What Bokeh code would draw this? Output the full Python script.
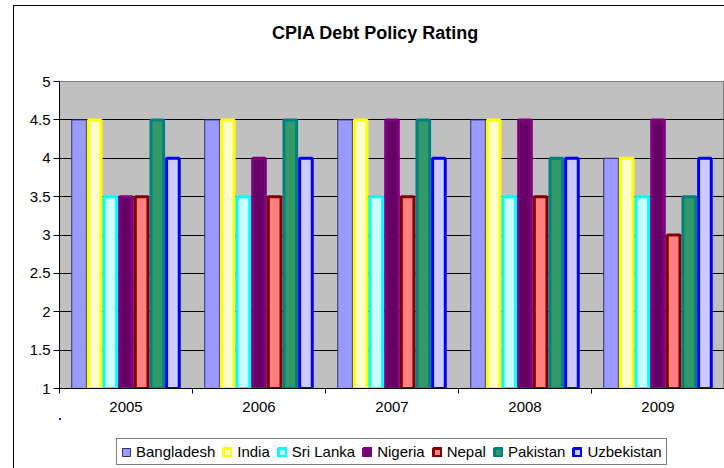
from bokeh.plotting import figure
from bokeh.layouts import column
from bokeh.models import (Range1d, FixedTicker, NumeralTickFormatter, Legend, LegendItem,
                          SingleIntervalTicker, Div, Label)
from bokeh.embed import file_html
from bokeh.resources import INLINE

title_text = "CPIA Debt Policy Rating"
years = ["2005", "2006", "2007", "2008", "2009"]
countries = ["Bangladesh", "India", "Sri Lanka", "Nigeria", "Nepal", "Pakistan", "Uzbekistan"]
bangladesh = [4.5, 4.5, 4.5, 4.5, 4.0]
india = [4.5, 4.5, 4.5, 4.5, 4.0]
sri_lanka = [3.5, 3.5, 3.5, 3.5, 3.5]
nigeria = [3.5, 4.0, 4.5, 4.5, 4.5]
nepal = [3.5, 3.5, 3.5, 3.5, 3.0]
pakistan = [4.5, 4.5, 4.5, 4.0, 3.5]
uzbekistan = [4.0, 4.0, 4.0, 4.0, 4.0]
series = [bangladesh, india, sri_lanka, nigeria, nepal, pakistan, uzbekistan]

fills = ["#9999FF", "#FFFFCC", "#CCFFFF", "#660066", "#FF8080", "#339966", "#CCCCFF"]
lines = ["#333366", "#FFFF00", "#00FFFF", "#800080", "#800000", "#008080", "#0000FF"]
lwidths = [1, 3, 3, 3, 3, 3, 3]

FONT = "Liberation Sans"

def strip(height, xr, yr):
    f = figure(width=724, height=height, output_backend="svg", toolbar_location=None,
               x_range=xr, y_range=yr,
               x_axis_location=None, y_axis_location=None,
               min_border_left=0, min_border_right=0, min_border_top=0, min_border_bottom=0)
    f.grid.visible = False
    f.outline_line_color = None
    f.background_fill_color = "white"
    f.border_fill_color = "white"
    return f

# title strip
ts = strip(71, Range1d(59, 724), Range1d(0, 71))
ts.add_layout(Label(x=375, y=71 - 32, text=title_text, text_align="center",
                    text_baseline="middle", text_font=FONT, text_font_size="18px",
                    text_font_style="bold", text_color="black"))

# main chart
p = figure(width=724, height=347, output_backend="svg", toolbar_location=None,
           x_range=Range1d(0, 5), y_range=Range1d(1, 5),
           min_border_left=59, min_border_right=0, min_border_top=10, min_border_bottom=30)
p.background_fill_color = "#C0C0C0"
p.border_fill_color = "white"
p.outline_line_color = "#808080"
p.outline_line_width = 1

# legend strip (legend proxies lie outside its visible ranges)
lg = strip(50, Range1d(100, 200), Range1d(-100, -50))

nbar = len(countries)
bw = 1.0 / (nbar + 1.5)
centers = [i + 0.5 for i in range(len(years))]
items = []
for k, (name, vals) in enumerate(zip(countries, series)):
    xs = [c + (k - (nbar - 1) / 2) * bw for c in centers]
    p.vbar(x=xs, top=vals, bottom=1, width=bw - lwidths[k] / 133.0,
           fill_color=fills[k], line_color=lines[k], line_width=lwidths[k])
    proxy = lg.vbar(x=xs, top=vals, bottom=1, width=bw,
                    fill_color=fills[k], line_color=lines[k], line_width=lwidths[k])
    items.append(LegendItem(label=name, renderers=[proxy]))

p.xgrid.grid_line_color = None
p.ygrid.grid_line_color = "black"
p.ygrid.grid_line_width = 1
p.ygrid.ticker = SingleIntervalTicker(interval=0.5)

p.yaxis.ticker = SingleIntervalTicker(interval=0.5)
p.yaxis.formatter = NumeralTickFormatter(format="0.[0]")
p.yaxis.major_label_text_font = FONT
p.yaxis.major_label_text_font_size = "15px"
p.yaxis.major_label_text_color = "black"
p.yaxis.axis_line_color = "black"
p.yaxis.major_tick_line_color = "black"
p.yaxis.major_tick_out = 6
p.yaxis.major_tick_in = 0
p.yaxis.minor_tick_line_color = None
p.yaxis.major_label_standoff = 3

p.xaxis.ticker = FixedTicker(ticks=centers, minor_ticks=[0, 1, 2, 3, 4, 5])
p.xaxis.major_label_overrides = {c: y for c, y in zip(centers, years)}
p.xaxis.major_label_text_font = FONT
p.xaxis.major_label_text_font_size = "15px"
p.xaxis.major_label_text_color = "black"
p.xaxis.axis_line_color = "black"
p.xaxis.major_tick_line_color = None
p.xaxis.major_tick_out = 5
p.xaxis.major_tick_in = 0
p.xaxis.minor_tick_line_color = "black"
p.xaxis.minor_tick_out = 5
p.xaxis.minor_tick_in = 0
p.xaxis.major_label_standoff = 8

legend = Legend(items=items, orientation="horizontal", location=(57, 3),
                label_text_font=FONT, label_text_font_size="15px", label_text_color="black",
                glyph_width=10, glyph_height=10, label_standoff=5, spacing=7,
                padding=4, margin=0, border_line_color="black", border_line_width=1,
                background_fill_color="white", background_fill_alpha=1)
lg.add_layout(legend, "center")

frame_div = Div(text="", styles={"position": "absolute", "left": "8px", "top": "0px",
                                 "width": "720px", "height": "470px",
                                 "border-left": "1px solid black", "border-top": "1px solid black",
                                 "pointer-events": "none"})

layout = column(ts, p, lg, frame_div, spacing=0)
open("out.html", "w").write(file_html(layout, INLINE))
